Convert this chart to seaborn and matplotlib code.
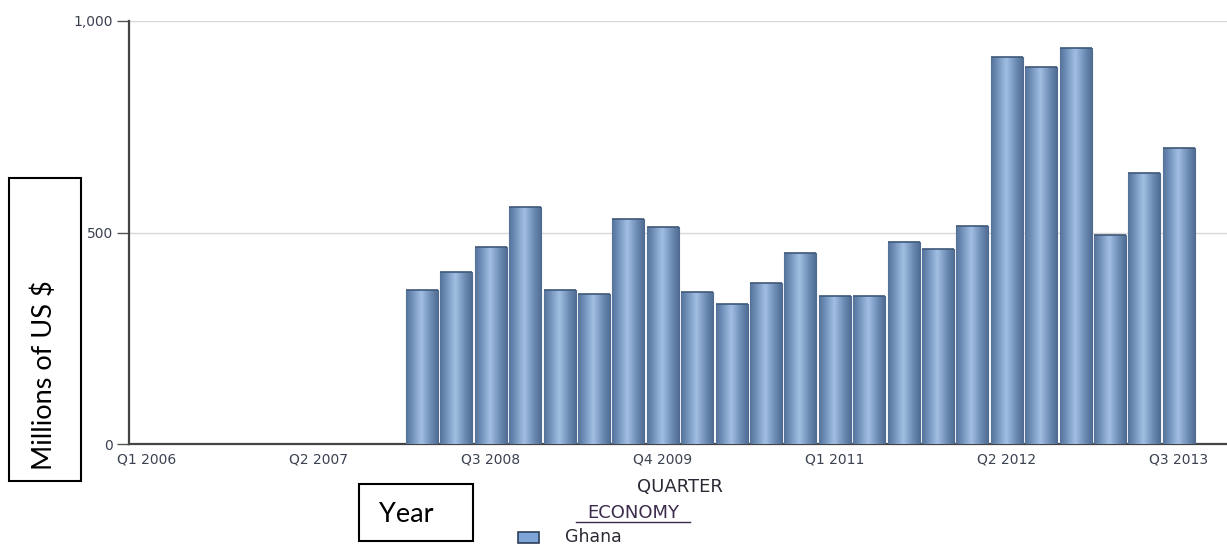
import numpy as np
import pandas as pd
import matplotlib
matplotlib.use("Agg")
import matplotlib.pyplot as plt
from matplotlib.colors import LinearSegmentedColormap
from matplotlib.patches import Rectangle
import seaborn as sns

# quarterly values, millions of US $ (no data before Q1 2008)
quarters = [
    "Q1 2006", "Q2 2006", "Q3 2006", "Q4 2006",
    "Q1 2007", "Q2 2007", "Q3 2007", "Q4 2007",
    "Q1 2008", "Q2 2008", "Q3 2008", "Q4 2008",
    "Q1 2009", "Q2 2009", "Q3 2009", "Q4 2009",
    "Q1 2010", "Q2 2010", "Q3 2010", "Q4 2010",
    "Q1 2011", "Q2 2011", "Q3 2011", "Q4 2011",
    "Q1 2012", "Q2 2012", "Q3 2012", "Q4 2012",
    "Q1 2013", "Q2 2013", "Q3 2013",
]
ghana = [
    None, None, None, None,
    None, None, None, None,
    363, 406, 466, 561,
    363, 354, 533, 513,
    360, 331, 381, 452,
    351, 351, 478, 460,
    516, 914, 891, 936,
    495, 640, 700,
]
tick_labels = ["Q1 2006", "Q2 2007", "Q3 2008", "Q4 2009", "Q1 2011", "Q2 2012", "Q3 2013"]
y_ticks = [0, 500, 1000]
y_tick_labels = ["0", "500", "1,000"]

df = pd.DataFrame({"quarter": quarters, "value": ghana}).dropna()

W, H = 1227, 545
fig = plt.figure(figsize=(W / 100, H / 100), dpi=100)
ax = fig.add_axes([129 / W, 1 - 444 / H, (1227 - 129) / W, (444 - 21) / H])

sns.barplot(data=df, x="quarter", y="value", order=quarters, color="#7c9cc6",
            width=0.93, errorbar=None, ax=ax, edgecolor="#4e6a90", linewidth=0.8,
            zorder=3)

# cylinder-like shading on each bar
shade = LinearSegmentedColormap.from_list(
    "cyl", [(0, "#55729a"), (0.18, "#6f8fb8"), (0.48, "#a2bfe3"),
            (0.8, "#6b8ab2"), (1, "#526e95")])
grad = np.linspace(0, 1, 64).reshape(1, -1)
for p in ax.patches:
    x0, w, h = p.get_x(), p.get_width(), p.get_height()
    if not np.isfinite(h) or h <= 0:
        continue
    im = ax.imshow(grad, cmap=shade, extent=[x0, x0 + w, 0, h], aspect="auto",
                   zorder=3.5, interpolation="bicubic")
    im.set_clip_path(p)
    ax.plot([x0, x0 + w], [h, h], color="#3f5878", lw=1.2, zorder=4,
            solid_capstyle="butt")

ax.set_xlim(-0.52, 31.4)
ax.set_ylim(0, 1000)
ax.set_aspect("auto")

tick_font = dict(fontsize=10, color="#3a4250", family="DejaVu Sans")
pos = [quarters.index(t) for t in tick_labels]
ax.set_xticks(pos)
ax.set_xticklabels(tick_labels, **tick_font)
ax.tick_params(axis="x", length=0, pad=6)
ax.set_yticks(y_ticks)
ax.set_yticklabels(y_tick_labels, **tick_font)
ax.tick_params(axis="y", length=8.5, width=1, color="#555555", pad=3)
ax.set_xlabel("")
ax.set_ylabel("")

for yv in y_ticks[1:]:
    ax.axhline(yv, color="#d8d8d8", lw=1, zorder=1)

for s in ["top", "right"]:
    ax.spines[s].set_visible(False)
ax.spines["left"].set_color("#444444")
ax.spines["left"].set_linewidth(1.6)
ax.spines["bottom"].set_color("#444444")
ax.spines["bottom"].set_linewidth(1.6)
ax.set_zorder(1)

def fx(px):
    return px / W

def fy(py):
    return 1 - py / H

fig.text(fx(680), fy(487), "QUARTER", ha="center", va="center", fontsize=13,
         color="#2a2a35", family="DejaVu Sans")
fig.text(fx(633), fy(513), "ECONOMY", ha="center", va="center", fontsize=13,
         color="#3b2a4a", family="DejaVu Sans")
fig.add_artist(plt.Line2D([fx(576), fx(690)], [fy(521.5), fy(521.5)],
                          color="#3b2a4a", lw=1))
fig.add_artist(Rectangle((fx(518), fy(543)), 21 / W, 11 / H, transform=fig.transFigure,
                         facecolor="#7ea4d8", edgecolor="#2c3e58", lw=1.2))
fig.text(fx(565), fy(537), "Ghana", ha="left", va="center", fontsize=12.5,
         color="#2a2a35", family="DejaVu Sans")

# boxed annotations
fig.add_artist(Rectangle((fx(9), fy(481)), 72 / W, 303 / H, transform=fig.transFigure,
                         facecolor="white", edgecolor="black", lw=1.5))
fig.text(fx(44), fy(375), "Millions of US $", rotation=90, ha="center", va="center",
         fontsize=19.5, family="Lato", color="black")
fig.add_artist(Rectangle((fx(359), fy(541)), 114 / W, 57 / H, transform=fig.transFigure,
                         facecolor="white", edgecolor="black", lw=1.5))
fig.text(fx(379), fy(514), "Year", ha="left", va="center", fontsize=19.5,
         family="Lato", color="black")

fig.savefig("out.png", dpi=100)
